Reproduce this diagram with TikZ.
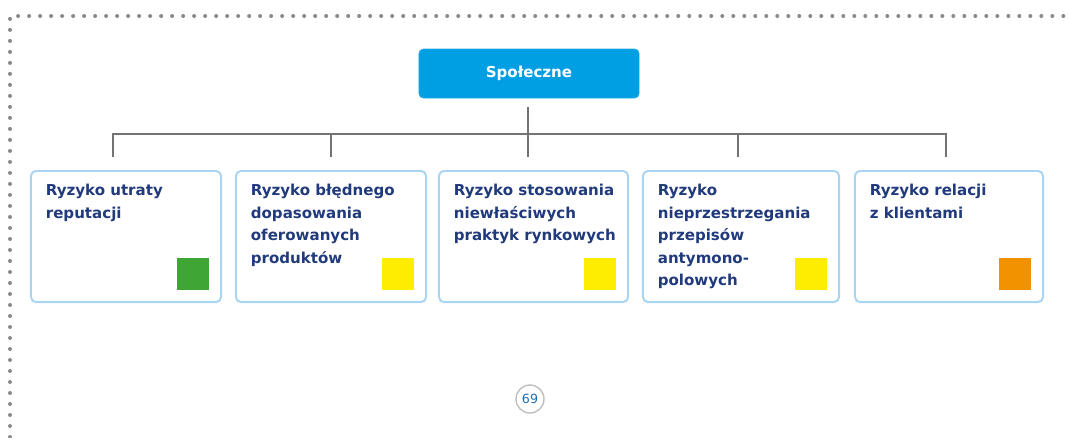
\documentclass[tikz,border=0pt]{standalone}
\usepackage{fontspec}
\setmainfont{DejaVu Sans}
\usepackage{tikz}
\usetikzlibrary{positioning}

\definecolor{spolblue}{HTML}{009FE3}
\definecolor{frameline}{HTML}{A9D4F2}
\definecolor{risktext}{HTML}{203A7C}
\definecolor{busgray}{HTML}{737373}
\definecolor{dotgray}{HTML}{8A8A8A}
\definecolor{flaggreen}{HTML}{3FA535}
\definecolor{flagyellow}{HTML}{FFED00}
\definecolor{flagorange}{HTML}{F39200}
\definecolor{pageblue}{HTML}{1F6FB5}

\begin{document}
\begin{tikzpicture}[x=0.025cm, y=-0.025cm,
	head/.style={fill=spolblue, draw=spolblue!85, rounded corners=3pt, minimum width=5.5cm, minimum height=1.225cm, inner sep=0pt, text=white, font=\bfseries\fontsize{10.7}{16}\selectfont},
	risk/.style={draw=frameline, line width=1.4pt, rounded corners=3.5pt, minimum height=3.275cm, inner sep=0pt},
	risktxt/.style={align=left, inner sep=0pt, text=risktext, font=\bfseries\fontsize{10.7}{16}\selectfont},
	flag/.style={minimum size=0.8cm, inner sep=0pt},
	bus/.style={draw=busgray, line width=1pt}]
	\useasboundingbox (0,0) rectangle (1068,437);
	
	% dotted page frame
	\draw[dotgray, line width=0.1cm, line cap=round, dash pattern=on 0pt off 0.275cm] (10,437) -- (10,16) -- (1065,16);
	
	\node[head] (spol) at (529,73.5) {Społeczne};
	
	\node[risk, minimum width=4.75cm] (r1) at (126,236.5) {};
	\node[risk, minimum width=4.75cm] (r2) at (331,236.5) {};
	\node[risk, minimum width=4.725cm] (r3) at (533.5,236.5) {};
	\node[risk, minimum width=4.9cm] (r4) at (741,236.5) {};
	\node[risk, minimum width=4.7cm] (r5) at (949,236.5) {};
	
	\node[risktxt, below right=0.35cm and 0.39cm of r1.north west] (r1t) {Ryzyko utraty\\reputacji};
	\node[risktxt, below right=0.35cm and 0.39cm of r2.north west] (r2t) {Ryzyko błędnego\\dopasowania\\oferowanych\\produktów};
	\node[risktxt, below right=0.35cm and 0.39cm of r3.north west] (r3t) {Ryzyko stosowania\\niewłaściwych\\praktyk rynkowych};
	\node[risktxt, below right=0.35cm and 0.39cm of r4.north west] (r4t) {Ryzyko\\nieprzestrzegania\\przepisów\\antymono-\\polowych};
	\node[risktxt, below right=0.35cm and 0.39cm of r5.north west] (r5t) {Ryzyko relacji\\z klientami};
	
	\node[flag, fill=flaggreen, above left=0.325cm and 0.325cm of r1.south east] (f1) {};
	\node[flag, fill=flagyellow, above left=0.325cm and 0.325cm of r2.south east] (f2) {};
	\node[flag, fill=flagyellow, above left=0.325cm and 0.325cm of r3.south east] (f3) {};
	\node[flag, fill=flagyellow, above left=0.325cm and 0.325cm of r4.south east] (f4) {};
	\node[flag, fill=flagorange, above left=0.325cm and 0.325cm of r5.south east] (f5) {};
	
	% tree lines
	\coordinate (stem) at (528,107);
	\coordinate (hub) at (528,134);
	\coordinate (j1) at (113,134);
	\coordinate (j2) at (331,134);
	\coordinate (j4) at (738,134);
	\coordinate (j5) at (946,134);
	\coordinate (e1) at (113,157);
	\coordinate (e2) at (331,157);
	\coordinate (e3) at (528,157);
	\coordinate (e4) at (738,157);
	\coordinate (e5) at (946,157);
	\draw[bus] (stem) -- (e3);
	\draw[bus] (e1) -- (j1) -- (j5) -- (e5);
	\draw[bus] (j2) -- (e2);
	\draw[bus] (j4) -- (e4);
	
	\node[circle, draw=black!25, line width=1pt, minimum size=0.7cm, inner sep=0pt, text=pageblue, font=\fontsize{9}{10}\selectfont] (page) at (530,399) {69};
\end{tikzpicture}
\end{document}
